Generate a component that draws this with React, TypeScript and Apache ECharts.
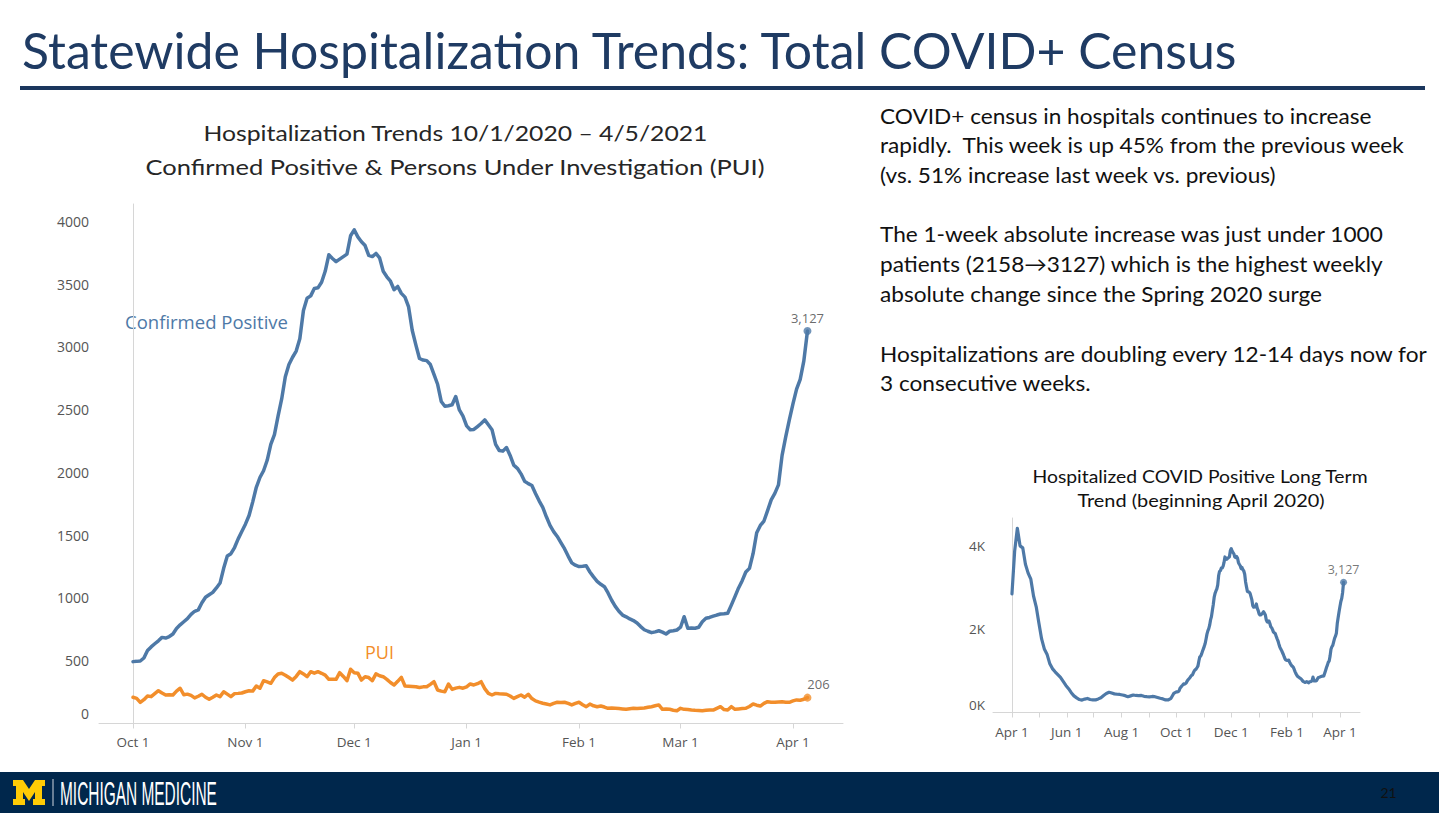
import React, { useEffect, useRef } from "react";
import * as echarts from "echarts";

const SLIDE_W = 1439;
const SLIDE_H = 813;

const NAVY = "#00274c";
const TITLE_COLOR = "#1f3b63";
const RULE_COLOR = "#1b365d";
const BLUE = "#4e79a7";
const ORANGE = "#f28e2b";
const AXIS_TEXT = "#555555";
const AXIS_LINE = "#d6d6d6";
const SLIDE_FONT = "Lato, 'Open Sans', sans-serif";
const CHART_FONT = "'Open Sans', 'Noto Sans', sans-serif";

// ---------- Main chart: daily census, day 0 = Oct 1 2020 ... day 186 = Apr 5 2021 ----------
const mainTickDays = [0, 31, 61, 92, 123, 151, 182];
const mainTickLabels = ["Oct 1", "Nov 1", "Dec 1", "Jan 1", "Feb 1", "Mar 1", "Apr 1"];
const mainYTicks = [0, 500, 1000, 1500, 2000, 2500, 3000, 3500, 4000];

const confirmedPositive = [
  493, 495, 498, 522, 581, 610, 635, 659, 686, 681,
  693, 713, 757, 786, 811, 835, 869, 894, 905, 962,
  1006, 1026, 1045, 1080, 1119, 1236, 1334, 1353, 1402, 1471,
  1529, 1588, 1657, 1764, 1882, 1960, 2014, 2097, 2224, 2302,
  2449, 2586, 2762, 2860, 2918, 2967, 3065, 3290, 3388, 3407,
  3466, 3471, 3515, 3603, 3734, 3705, 3680, 3700, 3720, 3740,
  3886, 3933, 3877, 3838, 3808, 3730, 3720, 3745, 3710, 3603,
  3559, 3524, 3456, 3482, 3427, 3397, 3319, 3133, 3016, 2908,
  2896, 2891, 2860, 2781, 2703, 2566, 2527, 2532, 2539, 2605,
  2498, 2449, 2371, 2341, 2343, 2366, 2390, 2419, 2380, 2341,
  2224, 2175, 2170, 2199, 2136, 2058, 2033, 1989, 1930, 1911,
  1896, 1833, 1774, 1722, 1647, 1578, 1529, 1490, 1441, 1393,
  1334, 1280, 1261, 1250, 1252, 1256, 1207, 1168, 1133, 1109,
  1090, 1040, 982, 933, 894, 864, 850, 833, 820, 801,
  772, 747, 735, 724, 730, 739, 728, 713, 735, 739,
  745, 767, 851, 759, 761, 759, 767, 811, 838, 845,
  855, 864, 872, 874, 878, 943, 1011, 1080, 1138, 1207,
  1236, 1353, 1520, 1578, 1613, 1696, 1782, 1833, 1901, 2136,
  2283, 2419, 2547, 2664, 2742, 2889, 3127,
];

const pui = [
  209, 200, 168, 190, 219, 214, 238, 261, 243, 227,
  229, 227, 258, 281, 229, 234, 224, 204, 217, 233,
  209, 193, 209, 227, 214, 253, 234, 214, 238, 240,
  243, 253, 261, 258, 299, 281, 341, 331, 320, 366,
  395, 401, 385, 366, 346, 375, 413, 395, 373, 413,
  401, 413, 400, 386, 352, 352, 352, 405, 375, 341,
  432, 405, 401, 346, 373, 366, 341, 395, 380, 373,
  352, 327, 307, 336, 368, 299, 297, 295, 293, 287,
  292, 293, 312, 333, 267, 258, 253, 315, 272, 282,
  288, 281, 292, 315, 307, 317, 333, 278, 240, 227,
  240, 237, 235, 233, 219, 200, 214, 227, 209, 233,
  199, 180, 170, 161, 155, 148, 160, 169, 168, 169,
  160, 148, 160, 169, 150, 134, 155, 141, 134, 139,
  131, 121, 123, 121, 119, 116, 113, 117, 121, 119,
  121, 123, 129, 134, 141, 148, 113, 115, 113, 106,
  102, 121, 113, 111, 107, 105, 104, 102, 105, 107,
  107, 121, 134, 111, 107, 134, 113, 116, 119, 121,
  136, 155, 146, 139, 160, 174, 170, 169, 172, 174,
  170, 169, 180, 188, 185, 193, 206,
];

// ---------- Long-term chart: day 0 = Apr 1 2020 ----------
const springDays = [
  0, 3, 6, 9, 12, 15, 18, 21, 24, 27, 30, 33, 36, 39, 42, 45, 48, 51, 54, 57,
  60, 63, 66, 69, 72, 75, 78, 81, 84, 87, 90, 93, 96, 99, 102, 105, 108, 111, 114, 117,
  120, 123, 126, 129, 132, 135, 138, 141, 144, 147, 150, 153, 156, 159, 162, 165, 168, 171, 174, 177,
  180,
];
const springValues = [
  2845, 3876, 4424, 4001, 3953, 3558, 3346, 3201, 2797, 2537, 2142, 1767, 1526, 1401, 1179, 1054, 977, 910, 842, 746,
  650, 572, 476, 399, 351, 312, 298, 322, 337, 312, 303, 303, 327, 356, 409, 457, 486, 467, 447, 438,
  433, 420, 404, 380, 399, 420, 409, 404, 409, 389, 380, 375, 385, 379, 361, 341, 327, 303, 303, 341,
  457,
];
const octFirstDayIndex = 183; // Oct 1 2020 counted from Apr 1 2020
const longTickDays = [0, 30, 61, 91, 122, 153, 183, 214, 244, 275, 306, 334, 365];
const longLabelDays = [0, 61, 122, 183, 244, 306, 365];
const longLabelTexts = ["Apr 1", "Jun 1", "Aug 1", "Oct 1", "Dec 1", "Feb 1", "Apr 1"];
const longYTicks = [0, 2000, 4000];

// ---------- Slide texts ----------
const slideTitle = "Statewide Hospitalization Trends: Total COVID+ Census";
const chartTitleLines = [
  "Hospitalization Trends 10/1/2020 \u2013 4/5/2021",
  "Confirmed Positive & Persons Under Investigation (PUI)",
];
const bulletLines = [
  "COVID+ census in hospitals continues to increase",
  "rapidly.  This week is up 45% from the previous week",
  "(vs. 51% increase last week vs. previous)",
  "The 1-week absolute increase was just under 1000",
  "patients (2158\u21923127) which is the highest weekly",
  "absolute change since the Spring 2020 surge",
  "Hospitalizations are doubling every 12-14 days now for",
  "3 consecutive weeks.",
];
const bulletY = [116, 145, 175, 234, 264, 294, 354, 383];
const longTitleLines = ["Hospitalized COVID Positive Long Term", "Trend (beginning April 2020)"];

let measureCtx: CanvasRenderingContext2D | null = null;
function measure(text: string, size: number, family: string, weight = "normal") {
  if (!measureCtx) measureCtx = document.createElement("canvas").getContext("2d");
  if (!measureCtx) return text.length * size * 0.5;
  measureCtx.font = `${weight} ${size}px ${family}`;
  return measureCtx.measureText(text).width;
}

function textEl(
  text: string,
  x: number,
  y: number,
  size: number,
  family: string,
  fill: string,
  align: "left" | "center" | "right" = "left",
  scaleX = 1,
  weight = "normal"
) {
  return {
    type: "text",
    x,
    y,
    scaleX,
    silent: true,
    style: {
      text,
      fontSize: size,
      fontFamily: family,
      fontWeight: weight,
      fill,
      textAlign: align,
      textVerticalAlign: "middle",
      align,
      verticalAlign: "middle",
    },
  };
}

function fitScale(text: string, size: number, family: string, target: number, weight = "normal") {
  return target / measure(text, size, family, weight);
}

function buildOption() {
  const graphics: any[] = [];

  graphics.push(
    textEl(slideTitle, 22, 50, 50, SLIDE_FONT, TITLE_COLOR, "left", fitScale(slideTitle, 50, SLIDE_FONT, 1218))
  );
  graphics.push({ type: "rect", silent: true, shape: { x: 20, y: 86, width: 1405, height: 4 }, style: { fill: RULE_COLOR } });

  graphics.push(
    textEl(chartTitleLines[0], 455.5, 133, 22, SLIDE_FONT, "#262626", "center", fitScale(chartTitleLines[0], 22, SLIDE_FONT, 505))
  );
  graphics.push(
    textEl(chartTitleLines[1], 455, 166, 22, SLIDE_FONT, "#262626", "center", fitScale(chartTitleLines[1], 22, SLIDE_FONT, 620))
  );

  const bulletScale = fitScale(bulletLines[6], 20.5, SLIDE_FONT, 548);
  bulletLines.forEach((line, i) => {
    graphics.push(textEl(line, 880, bulletY[i], 20.5, SLIDE_FONT, "#111111", "left", bulletScale));
  });

  graphics.push(
    textEl(longTitleLines[0], 1200, 476, 17, SLIDE_FONT, "#111111", "center", fitScale(longTitleLines[0], 17, SLIDE_FONT, 336))
  );
  graphics.push(
    textEl(longTitleLines[1], 1201, 501, 17, SLIDE_FONT, "#111111", "center", fitScale(longTitleLines[1], 17, SLIDE_FONT, 248))
  );

  graphics.push(
    textEl("Confirmed Positive", 125, 322, 18, CHART_FONT, BLUE, "left", fitScale("Confirmed Positive", 18, CHART_FONT, 163))
  );
  graphics.push(textEl("PUI", 365, 652, 18, CHART_FONT, ORANGE, "left"));

  // Footer
  graphics.push({ type: "rect", silent: true, shape: { x: 0, y: 772, width: SLIDE_W, height: SLIDE_H - 772 }, style: { fill: NAVY } });
  const mPts = [
    [0, 0], [10, 0], [16, 9], [22, 0], [32, 0], [32, 6], [29, 6], [29, 19], [32, 19], [32, 25],
    [20, 25], [20, 19], [22, 19], [22, 12], [16, 21], [10, 12], [10, 19], [12, 19], [12, 25],
    [0, 25], [0, 19], [3, 19], [3, 6], [0, 6],
  ];
  graphics.push({ type: "polygon", silent: true, x: 13, y: 780, shape: { points: mPts }, style: { fill: "#ffcb05" } });
  graphics.push({
    type: "line",
    silent: true,
    shape: { x1: 53, y1: 779, x2: 53, y2: 806 },
    style: { stroke: "#d0d6de", lineWidth: 1 },
  });
  graphics.push(
    textEl("MICHIGAN MEDICINE", 60, 793, 34, "'Liberation Sans', Arial, sans-serif", "#ffffff", "left",
      fitScale("MICHIGAN MEDICINE", 34, "'Liberation Sans', Arial, sans-serif", 157))
  );
  graphics.push(textEl("21", 1388.5, 792, 14, SLIDE_FONT, "#111111", "center"));

  const longTerm: number[][] = springDays.map((d, i) => [d, springValues[i]]);
  confirmedPositive.forEach((v, i) => longTerm.push([octFirstDayIndex + i, v]));
  const lastDay = confirmedPositive.length - 1;
  const lastLongDay = octFirstDayIndex + lastDay;

  const axisLabelBase = { color: AXIS_TEXT, fontFamily: CHART_FONT, fontSize: 13.5 };

  return {
    animation: false,
    backgroundColor: "#ffffff",
    grid: [
      { left: 99, top: 204, width: 744, height: 519.5 },
      { left: 993, top: 518, width: 367, height: 196 },
    ],
    xAxis: [
      {
        type: "value",
        gridIndex: 0,
        min: -9.38,
        max: 195.8,
        axisLine: { show: true, lineStyle: { color: AXIS_LINE, width: 1 } },
        axisTick: { show: true, customValues: mainTickDays, length: 5, lineStyle: { color: AXIS_LINE } },
        axisLabel: {
          ...axisLabelBase,
          customValues: mainTickDays,
          margin: 11,
          formatter: (v: number) => mainTickLabels[mainTickDays.indexOf(Math.round(v))] ?? "",
        },
        splitLine: { show: false },
      },
      {
        type: "value",
        gridIndex: 1,
        min: -21.1,
        max: 387.3,
        axisLine: { show: true, lineStyle: { color: AXIS_LINE, width: 1 } },
        axisTick: { show: true, customValues: longTickDays, length: 5, lineStyle: { color: AXIS_LINE } },
        axisLabel: {
          ...axisLabelBase,
          customValues: longLabelDays,
          margin: 11,
          formatter: (v: number) => longLabelTexts[longLabelDays.indexOf(Math.round(v))] ?? "",
        },
        splitLine: { show: false },
      },
    ],
    yAxis: [
      {
        type: "value",
        gridIndex: 0,
        min: 0,
        max: 4139,
        axisLine: { show: true, lineStyle: { color: AXIS_LINE, width: 1 } },
        axisTick: { show: false },
        axisLabel: {
          ...axisLabelBase,
          fontSize: 14,
          customValues: mainYTicks,
          margin: 10,
          formatter: (v: number) => (v === 0 ? "{zero|0}" : String(v)),
          rich: {
            zero: { padding: [0, 0, 20, 0], fontSize: 14, color: AXIS_TEXT, fontFamily: CHART_FONT },
          },
        },
        splitLine: { show: false },
      },
      {
        type: "value",
        gridIndex: 1,
        min: -36,
        max: 4670,
        axisLine: { show: true, lineStyle: { color: AXIS_LINE, width: 1 } },
        axisTick: { show: false },
        axisLabel: {
          ...axisLabelBase,
          customValues: longYTicks,
          margin: 8,
          formatter: (v: number) => (v === 0 ? "{zero|0K}" : `${Math.round(v / 1000)}K`),
          rich: {
            zero: { padding: [0, 0, 15, 0], fontSize: 13.5, color: AXIS_TEXT, fontFamily: CHART_FONT },
          },
        },
        splitLine: { show: false },
      },
    ],
    series: [
      {
        type: "line",
        name: "PUI",
        xAxisIndex: 0,
        yAxisIndex: 0,
        data: pui.map((v, i) => [i, v]),
        symbol: "none",
        lineStyle: { color: ORANGE, width: 3.5, cap: "round", join: "round" },
        z: 2,
      },
      {
        type: "line",
        name: "Confirmed Positive",
        xAxisIndex: 0,
        yAxisIndex: 0,
        data: confirmedPositive.map((v, i) => [i, v]),
        symbol: "none",
        lineStyle: { color: BLUE, width: 3.5, cap: "round", join: "round" },
        z: 3,
      },
      {
        type: "scatter",
        xAxisIndex: 0,
        yAxisIndex: 0,
        data: [[lastDay, confirmedPositive[lastDay]]],
        symbolSize: 8,
        itemStyle: { color: BLUE },
        label: {
          show: true,
          position: "top",
          distance: 3,
          color: "#444444",
          fontSize: 13,
          fontFamily: CHART_FONT,
          formatter: (p: any) => Number(p.value[1]).toLocaleString("en-US"),
        },
        z: 4,
      },
      {
        type: "scatter",
        xAxisIndex: 0,
        yAxisIndex: 0,
        data: [[lastDay, pui[lastDay]]],
        symbolSize: 8,
        itemStyle: { color: ORANGE },
        label: {
          show: true,
          position: "top",
          distance: 3,
          offset: [11, 0],
          color: "#444444",
          fontSize: 13,
          fontFamily: CHART_FONT,
          formatter: (p: any) => Number(p.value[1]).toLocaleString("en-US"),
        },
        z: 4,
      },
      {
        type: "line",
        name: "Long term",
        xAxisIndex: 1,
        yAxisIndex: 1,
        data: longTerm,
        symbol: "none",
        lineStyle: { color: BLUE, width: 3.2, cap: "round", join: "round" },
        z: 3,
      },
      {
        type: "scatter",
        xAxisIndex: 1,
        yAxisIndex: 1,
        data: [[lastLongDay, confirmedPositive[lastDay]]],
        symbolSize: 7,
        itemStyle: { color: BLUE },
        label: {
          show: true,
          position: "top",
          distance: 3,
          color: "#555555",
          fontSize: 12.5,
          fontFamily: CHART_FONT,
          formatter: (p: any) => Number(p.value[1]).toLocaleString("en-US"),
        },
        z: 4,
      },
    ],
    graphic: { elements: graphics },
  };
}

export default function App() {
  const ref = useRef<HTMLDivElement>(null);
  useEffect(() => {
    if (!ref.current) return;
    const chart = echarts.init(ref.current, undefined, { renderer: "svg", width: SLIDE_W, height: SLIDE_H });
    chart.setOption(buildOption() as any);
    return () => chart.dispose();
  }, []);
  return (
    <div style={{ position: "fixed", left: 0, top: 0, width: SLIDE_W, height: SLIDE_H, background: "#ffffff" }}>
      <div ref={ref} style={{ width: SLIDE_W, height: SLIDE_H }} />
    </div>
  );
}
